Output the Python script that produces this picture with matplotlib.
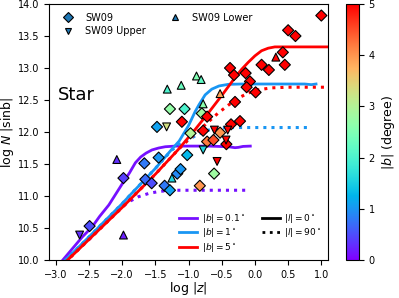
import matplotlib
matplotlib.use("Agg")
import matplotlib.pyplot as plt
from matplotlib.lines import Line2D
from matplotlib.colors import Normalize

# SW09 detections (diamonds): log|z|, log N|sin b|, |b|
sw_x = [-2.49, -1.98, -1.665, -1.65, -1.555, -1.45, -1.36, -1.28, -1.17, -1.12,
        -1.02, -1.475, -1.28, -1.06, -1.10, -0.80, -0.72, -0.97, -0.78, -0.525,
        -0.72, -0.625, -0.43, -0.83, -0.615, -0.36, -0.225, -0.30, -0.375, -0.315,
        -0.14, -0.075, -0.125, 0.01, 0.10, 0.21, 0.45, 0.42, 0.50, 0.61, 1.00]
sw_y = [10.53, 11.28, 11.51, 11.26, 11.20, 11.60, 11.16, 11.09, 11.35, 11.42,
        11.64, 12.08, 12.36, 12.36, 12.16, 12.29, 12.24, 11.98, 12.02, 11.99,
        11.85, 11.875, 11.81, 11.16, 11.35, 12.12, 12.17, 12.47, 13.00, 12.89,
        12.92, 12.79, 12.70, 12.62, 13.05, 12.97, 13.05, 13.245, 13.59, 13.50, 13.82]
sw_b = [0.5, 0.4, 0.8, 0.7, 0.5, 1.0, 0.8, 1.1, 0.9, 1.0,
        1.3, 1.1, 2.7, 2.0, 5.0, 2.8, 5.0, 3.0, 5.0, 4.0,
        4.2, 4.5, 5.0, 4.0, 2.8, 5.0, 5.0, 5.0, 5.0, 5.0,
        5.0, 5.0, 5.0, 5.0, 5.0, 5.0, 5.0, 5.0, 5.0, 5.0, 5.0]

# upper limits
up_x = [-2.64, -1.33, -0.61, -0.41, -0.435, -0.78, -0.57]
up_y = [10.39, 12.08, 12.03, 12.03, 11.875, 11.72, 11.54]
up_b = [0.3, 3.3, 5.0, 5.0, 5.0, 1.6, 5.0]

# lower limits
lo_x = [-2.08, -1.98, -1.32, -1.11, -0.88, -0.81, -0.525, -1.25, 0.315, -0.78]
lo_y = [11.57, 10.39, 12.67, 12.73, 12.875, 12.82, 12.60, 11.28, 13.17, 12.44]
lo_b = [0.3, 0.2, 2.0, 2.3, 2.5, 2.2, 3.9, 1.6, 5.0, 2.6]

# model curves, |b| = 0.1, 1, 5 deg; l = 0 (solid) and l = 90 (dotted)
b01_l0_x = [-2.95, -2.60, -2.45, -2.34, -2.20, -2.09, -1.98, -1.89, -1.80, -1.72,
            -1.64, -1.55, -1.45, -1.35, -1.20, -1.00, -0.70, -0.40, -0.30, -0.25,
            -0.18, -0.07]
b01_l0_y = [9.93, 10.36, 10.52, 10.68, 10.86, 11.04, 11.22, 11.36, 11.52, 11.61,
            11.67, 11.72, 11.75, 11.77, 11.78, 11.78, 11.78, 11.77, 11.755, 11.76,
            11.775, 11.78]
b01_l90_x = [-2.95, -2.50, -2.20, -2.05, -1.90, -1.75, -1.60, -1.45, -1.26, -0.10]
b01_l90_y = [9.90, 10.32, 10.63, 10.79, 10.91, 10.99, 11.04, 11.07, 11.09, 11.09]

b1_l0_x = [-2.95, -2.50, -2.00, -1.875, -1.50, -1.26, -1.14, -1.00, -0.90, -0.84,
           -0.75, -0.65, -0.54, -0.40, -0.20, 0.30, 0.75, 0.85, 0.92]
b1_l0_y = [9.90, 10.36, 10.88, 11.02, 11.43, 11.72, 11.86, 12.10, 12.32, 12.43,
           12.58, 12.67, 12.72, 12.745, 12.75, 12.75, 12.75, 12.74, 12.75]
b1_l90_x = [-2.95, -2.50, -2.00, -1.875, -1.50, -1.26, -1.15, -1.00, -0.85, -0.70,
            -0.55, -0.40, 0.84]
b1_l90_y = [9.90, 10.36, 10.88, 11.02, 11.43, 11.71, 11.80, 11.88, 11.97, 12.03,
            12.06, 12.07, 12.07]

b5_l0_x = [-2.95, -2.50, -2.00, -1.50, -1.16, -0.90, -0.70, -0.50, -0.30, -0.20,
           -0.10, 0.00, 0.10, 0.20, 0.30, 1.15]
b5_l0_y = [9.87, 10.32, 10.82, 11.34, 11.72, 12.04, 12.30, 12.57, 12.85, 12.98,
           13.09, 13.19, 13.27, 13.31, 13.33, 13.33]
b5_l90_x = [-2.95, -2.50, -2.00, -1.50, -1.16, -1.00, -0.85, -0.70, -0.55, -0.40,
            -0.25, -0.10, 0.05, 0.25, 0.50, 1.15]
b5_l90_y = [9.87, 10.32, 10.82, 11.34, 11.72, 11.88, 12.02, 12.16, 12.30, 12.42,
            12.53, 12.61, 12.66, 12.69, 12.70, 12.70]

cmap = plt.cm.rainbow
norm = Normalize(vmin=0, vmax=5)

fig = plt.figure(figsize=(3.99, 2.98), dpi=100)
ax = fig.add_axes([0.123, 0.1275, 0.699, 0.859])
cax = fig.add_axes([0.867, 0.1275, 0.0326, 0.859])

curves = [(0.1, b01_l0_x, b01_l0_y, b01_l90_x, b01_l90_y),
          (1.0, b1_l0_x, b1_l0_y, b1_l90_x, b1_l90_y),
          (5.0, b5_l0_x, b5_l0_y, b5_l90_x, b5_l90_y)]
for b, x0, y0, x90, y90 in curves:
    col = cmap(norm(b))
    ax.plot(x90, y90, ls=":", lw=2.2, color=col)
    ax.plot(x0, y0, ls="-", lw=2.0, color=col)

sc = ax.scatter(sw_x, sw_y, c=sw_b, cmap=cmap, norm=norm, marker="D", s=32,
                edgecolors="k", linewidths=0.8, zorder=3)
ax.scatter(up_x, up_y, c=up_b, cmap=cmap, norm=norm, marker="v", s=32,
           edgecolors="k", linewidths=0.8, zorder=3)
ax.scatter(lo_x, lo_y, c=lo_b, cmap=cmap, norm=norm, marker="^", s=32,
           edgecolors="k", linewidths=0.8, zorder=3)

ax.set_xlim(-3.1, 1.1)
ax.set_ylim(10.0, 14.0)
ax.set_xticks([-3.0, -2.5, -2.0, -1.5, -1.0, -0.5, 0.0, 0.5, 1.0])
ax.set_yticks([10.0, 10.5, 11.0, 11.5, 12.0, 12.5, 13.0, 13.5, 14.0])
ax.tick_params(labelsize=7)
ax.set_xlabel("log $|z|$", fontsize=9, labelpad=0)
ax.set_ylabel("log $N$ |sinb|", fontsize=9, labelpad=1)
ax.text(0.03, 0.645, "Star", transform=ax.transAxes, fontsize=13, va="center")

# legends
mk = dict(ls="none", markerfacecolor="#1f77b4", markeredgecolor="k",
          markeredgewidth=0.8, markersize=5)
h1 = [Line2D([], [], marker="D", label="SW09", **mk),
      Line2D([], [], marker="v", label="SW09 Upper", **mk),
      Line2D([], [], marker="^", label="SW09 Lower", **mk)]
leg1 = ax.legend(handles=h1, loc="upper left", ncol=2, frameon=False, fontsize=7,
                 labelspacing=0.35)
ax.add_artist(leg1)

h2 = [Line2D([], [], color=cmap(norm(0.1)), lw=2, label=r"$|b|=0.1^\circ$"),
      Line2D([], [], color=cmap(norm(1.0)), lw=2, label=r"$|b|=1^\circ$"),
      Line2D([], [], color=cmap(norm(5.0)), lw=2, label=r"$|b|=5^\circ$"),
      Line2D([], [], color="k", lw=2, ls="-", label=r"$|l|=0^\circ$"),
      Line2D([], [], color="k", lw=2, ls=":", label=r"$|l|=90^\circ$")]
ax.legend(handles=h2, loc="lower right", ncol=2, frameon=False, fontsize=6.5,
          labelspacing=0.15, handletextpad=0.5, columnspacing=1.8,
          borderaxespad=0.3)

cb = fig.colorbar(sc, cax=cax)
cb.set_ticks([0, 1, 2, 3, 4, 5])
cb.ax.tick_params(labelsize=7)
cb.set_label("$|b|$ (degree)", fontsize=9)

fig.savefig("out.png", dpi=100)
